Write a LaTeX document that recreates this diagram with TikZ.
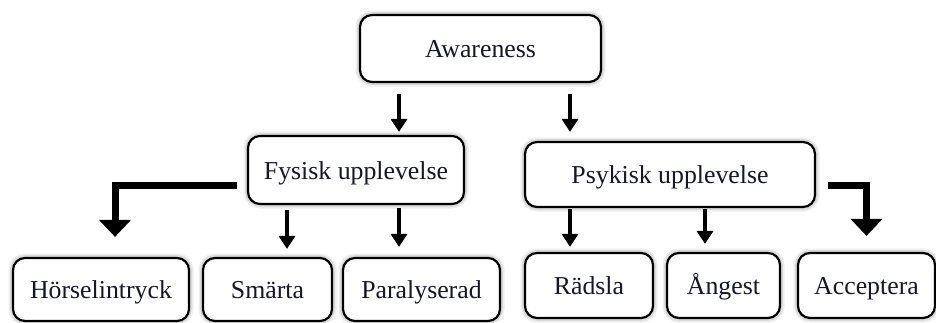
\documentclass[tikz,border=0pt]{standalone}
\usepackage{fontspec}
\setmainfont{Liberation Serif}
\usetikzlibrary{arrows.meta,calc}
\definecolor{txt}{RGB}{22,22,40}
\begin{document}
\begin{tikzpicture}[x=0.5pt,y=-0.5pt,
  box/.style={draw=black, line width=1.1pt, rounded corners=6pt, inner sep=0pt,
    text=txt, font=\fontsize{12.9}{15}\selectfont, fill=white,
    text height=10.5pt, text depth=1.5pt,
    preaction={draw=black, draw opacity=0.07, line width=4.5pt},
    preaction={draw=black, draw opacity=0.08, line width=2.8pt}},
  arr/.style={line width=1.75pt, -{Triangle[width=8pt,length=6.5pt]}},
  bigarr/.style={line width=3.5pt, line join=miter, -{Triangle[width=15.5pt,length=8.5pt]}}
]
\useasboundingbox (0,0) rectangle (936,322);
% nodes
\node[box, minimum width=120.5pt, minimum height=33.5pt] (aw) at (480.5,48.5) {Awareness};
\node[box, minimum width=108pt, minimum height=34pt] (fy) at (356,170) {Fysisk upplevelse};
\node[box, minimum width=145pt, minimum height=32.5pt] (ps) at (670,174.5) {Psykisk upplevelse};
\node[box, minimum width=88pt, minimum height=31.5pt] (ho) at (101,289.5) {Hörselintryck};
\node[box, minimum width=64.5pt, minimum height=31.5pt] (sm) at (267.5,289.5) {Smärta};
\node[box, minimum width=78.5pt, minimum height=31.5pt] (pa) at (421.5,289.5) {Paralyserad};
\node[box, minimum width=64pt, minimum height=32.5pt] (ra) at (589,285.5) {Rädsla};
\node[box, minimum width=56.5pt, minimum height=32.5pt] (an) at (723.5,285.5) {Ångest};
\node[box, minimum width=68.5pt, minimum height=32.5pt] (ac) at (866.5,285.5) {Acceptera};
% column coordinates
\coordinate (c1) at (399,0);
\coordinate (c2) at (570,0);
\coordinate (c3) at (287,0);
\coordinate (c4) at (705,0);
% thin arrows
\draw[arr, shorten <=5.5pt, shorten >=1.5pt] (aw.south -| c1) -- (fy.north -| c1);
\draw[arr, shorten <=5.5pt, shorten >=4.5pt] (aw.south -| c2) -- (ps.north -| c2);
\draw[arr, shorten <=2.5pt, shorten >=4pt] (fy.south -| c3) -- (sm.north -| c3);
\draw[arr, shorten <=1.5pt, shorten >=5pt] (fy.south -| c1) -- (pa.north -| c1);
\draw[arr, shorten <=0.5pt, shorten >=2.5pt] (ps.south -| c2) -- (ra.north -| c2);
\draw[arr, shorten <=0.5pt, shorten >=4pt] (ps.south -| c4) -- (an.north -| c4);
% thick elbow arrows
\draw[bigarr, shorten >=10pt] ($(fy.south west)+(-10,-20)$) -| ($(ho.north)+(14,0)$);
\draw[bigarr, shorten >=8pt] ($(ps.south east)+(12,-23)$) -| (ac.north);
\end{tikzpicture}
\end{document}
